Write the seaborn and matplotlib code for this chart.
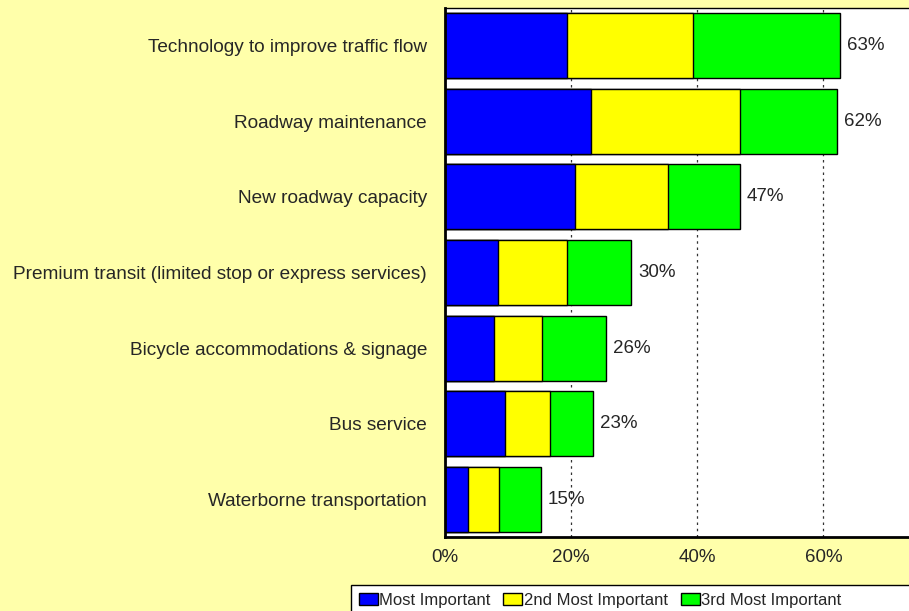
# imports

import numpy as np
import pandas as pd
import matplotlib.pyplot as plt
import seaborn as sns
from matplotlib.patches import Patch, Rectangle

# data (percent of respondents)

categories = ['Technology to improve traffic flow',
              'Roadway maintenance',
              'New roadway capacity',
              'Premium transit (limited stop or express services)',
              'Bicycle accommodations & signage',
              'Bus service',
              'Waterborne transportation']

most_important = [19.3, 23.2, 20.6, 8.4, 7.8, 9.5, 3.6]
second_important = [20.1, 23.6, 14.7, 10.9, 7.6, 7.1, 5.0]
third_important = [23.2, 15.4, 11.5, 10.2, 10.1, 6.8, 6.6]
total_labels = ['63%', '62%', '47%', '30%', '26%', '23%', '15%']

series_names = ['Most Important', '2nd Most Important', '3rd Most Important']
series_colors = ['#0000FF', '#FFFF00', '#00FF00']

# cumulative ends for stacking

df = pd.DataFrame({'category': categories,
                   'most': most_important,
                   'second': second_important,
                   'third': third_important})
df['end_most'] = df['most']
df['end_second'] = df['most'] + df['second']
df['end_third'] = df['end_second'] + df['third']

# figure

sns.set_style('white')
plt.rcParams['font.family'] = ['Liberation Sans', 'DejaVu Sans']

bg = '#FFFFAA'
fig = plt.figure(figsize=(9.09, 6.11), dpi=100, facecolor=bg)
ax = fig.add_axes([445 / 909, 1 - 537 / 611, 473 / 909, 529 / 611])
ax.set_facecolor('white')

# draw longest first so the shorter segments sit on top
for col, color in zip(['end_third', 'end_second', 'end_most'], series_colors[::-1]):
    sns.barplot(data=df, y='category', x=col, orient='h', color=color,
                width=0.86, edgecolor='black', linewidth=1, saturation=1, ax=ax)

# total labels
for i, lab in enumerate(total_labels):
    ax.annotate(lab, xy=(df['end_third'][i], i), xytext=(5, 0),
                textcoords='offset points', va='center', ha='left', fontsize=13.5)

# axes formatting
ax.set_xlim(0, 75)
ax.set_xticks([0, 20, 40, 60])
ax.set_xticklabels(['0%', '20%', '40%', '60%'], fontsize=13.5)
ax.tick_params(axis='y', labelsize=13.7, length=0, pad=13)
ax.tick_params(axis='x', length=0, pad=9)
ax.set_xlabel('')
ax.set_ylabel('')
ax.set_axisbelow(True)
ax.grid(axis='x', linestyle=(0, (2, 3)), color='#333333', linewidth=0.9)
ax.grid(axis='y', visible=False)
for side in ['left', 'bottom']:
    ax.spines[side].set_linewidth(2)
    ax.spines[side].set_color('black')
ax.spines['top'].set_linewidth(1)
ax.spines['top'].set_color('black')

# legend box runs off the bottom/right like the original
box = Rectangle((351 / 909, -0.05), 0.7, 1 - 585 / 611 + 0.05,
                transform=fig.transFigure, facecolor='white',
                edgecolor='black', linewidth=1, zorder=5)
fig.patches.append(box)

handles = [Patch(facecolor=c, edgecolor='black', label=n)
           for n, c in zip(series_names, series_colors)]
leg = fig.legend(handles=handles, loc='upper left', ncol=3,
                 bbox_to_anchor=(351 / 909, 1 - 585 / 611), borderaxespad=0,
                 fontsize=12, frameon=False,
                 handlelength=1.15, handleheight=0.8, handletextpad=0.1,
                 columnspacing=0.75, borderpad=0.45)
leg.set_zorder(6)

plt.savefig('out.png', dpi=100, facecolor=bg)
